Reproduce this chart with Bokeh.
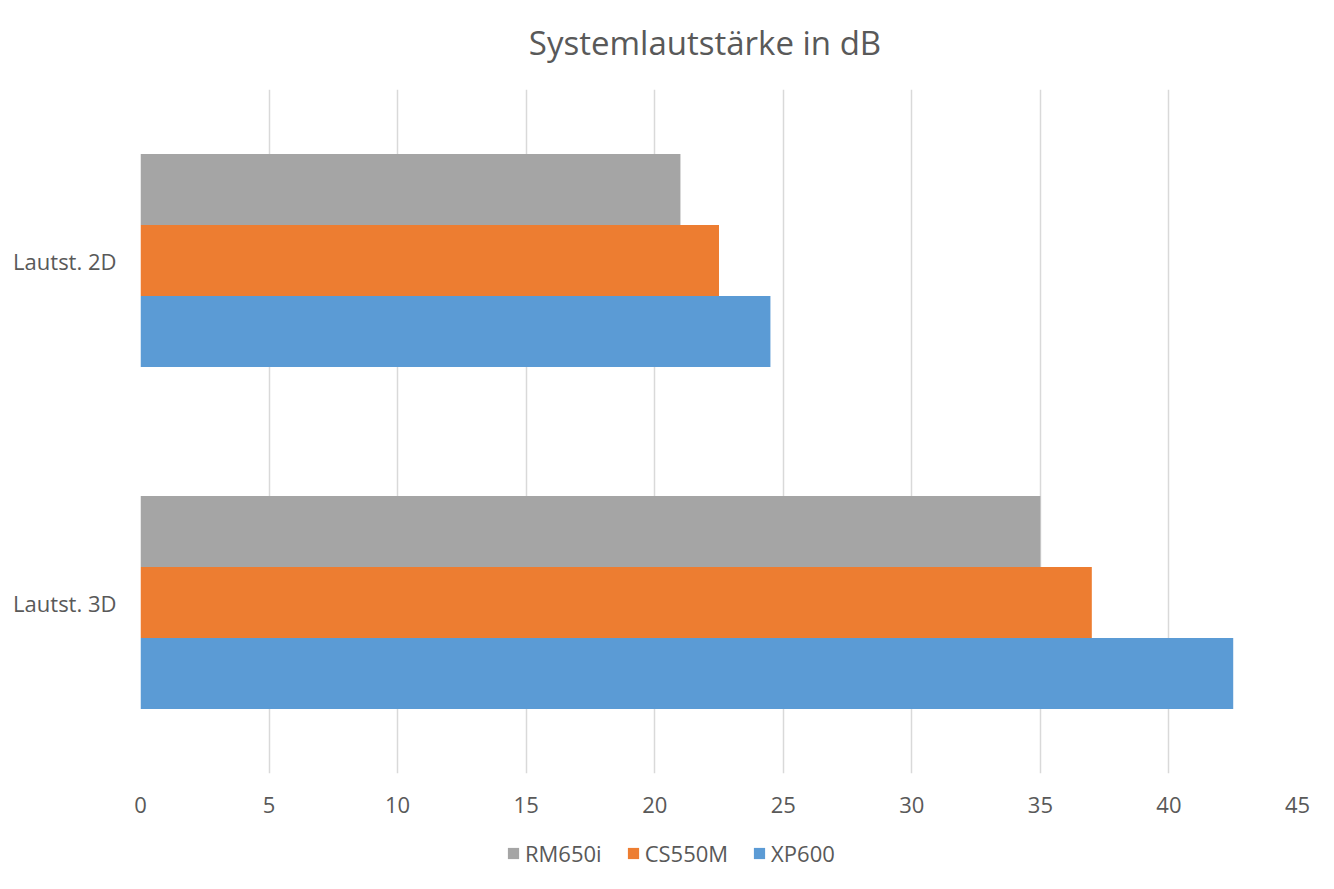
from bokeh.plotting import figure
from bokeh.models import (FactorRange, Range1d, FixedTicker, ColumnDataSource,
                          Legend, LegendItem, Label)
from bokeh.layouts import column
from bokeh.transform import dodge
from bokeh.embed import file_html
from bokeh.resources import INLINE

title_text = "Systemlautstärke in dB"
categories = ["Lautst. 2D", "Lautst. 3D"]
series_names = ["RM650i", "CS550M", "XP600"]
rm650i = [21.0, 35.0]
cs550m = [22.5, 37.0]
xp600 = [24.5, 42.5]
colors = ["#A5A5A5", "#ED7D31", "#5B9BD5"]
x_ticks = [0, 5, 10, 15, 20, 25, 30, 35, 40, 45]

FONT = "Open Sans"
TEXT = "#595959"
W = 1334
TOP_H, MAIN_H, LEG_H = 89, 741, 59
LEFT, RIGHT = 140, 37
FRAME_W = W - LEFT - RIGHT

src = ColumnDataSource(dict(cat=categories, RM650i=rm650i, CS550M=cs550m, XP600=xp600))

# title strip
pt = figure(width=W, height=TOP_H, output_backend="svg", toolbar_location=None,
            x_range=Range1d(0, FRAME_W), y_range=Range1d(0, TOP_H),
            x_axis_type=None, y_axis_type=None,
            min_border_left=LEFT, min_border_right=RIGHT,
            min_border_top=0, min_border_bottom=0)
pt.outline_line_color = None
pt.xgrid.grid_line_color = None
pt.ygrid.grid_line_color = None
pt.add_layout(Label(x=704.5 - LEFT, y=TOP_H - 42, text=title_text,
                    text_align="center", text_baseline="middle",
                    text_font=FONT, text_font_size="33px", text_color=TEXT))

# main chart
p = figure(width=W, height=MAIN_H, output_backend="svg", toolbar_location=None,
           y_range=FactorRange(factors=list(reversed(categories))),
           x_range=Range1d(0, 45),
           min_border_left=LEFT, min_border_right=RIGHT,
           min_border_top=0, min_border_bottom=57)

bar_h = 0.2076
offsets = [bar_h, 0.0, -bar_h]
for name, col, off in zip(series_names, colors, offsets):
    p.hbar(y=dodge("cat", off, range=p.y_range), right=name, left=0,
           height=bar_h, source=src, fill_color=col, line_color=None)

p.outline_line_color = None
p.background_fill_color = "white"
p.border_fill_color = "white"

p.xgrid.ticker = FixedTicker(ticks=x_ticks)
p.xgrid.grid_line_color = "#D9D9D9"
p.xgrid.grid_line_width = 1.5
p.ygrid.grid_line_color = None
p.xaxis.ticker = FixedTicker(ticks=x_ticks)

for ax in (p.xaxis, p.yaxis):
    ax.axis_line_color = None
    ax.major_tick_line_color = None
    ax.minor_tick_line_color = None
    ax.major_tick_out = 0
    ax.major_tick_in = 0
    ax.major_label_text_font = FONT
    ax.major_label_text_font_size = "22px"
    ax.major_label_text_color = TEXT
p.xaxis.major_label_standoff = 23
p.yaxis.major_label_standoff = 24
p.y_range.range_padding = 0

# legend strip: zero-height bars from the same data, only their legend swatches show
pl = figure(width=W, height=LEG_H, output_backend="svg", toolbar_location=None,
            x_range=Range1d(0, 45), y_range=FactorRange(factors=list(reversed(categories))),
            x_axis_type=None, y_axis_type=None,
            min_border_left=LEFT, min_border_right=RIGHT,
            min_border_top=0, min_border_bottom=0)
pl.outline_line_color = None
pl.xgrid.grid_line_color = None
pl.ygrid.grid_line_color = None
items = []
for name, col in zip(series_names, colors):
    r = pl.hbar(y="cat", right=name, left=0, height=0, source=src,
                fill_color=col, line_color=None)
    items.append(LegendItem(label=name, renderers=[r]))

legend = Legend(items=items, orientation="horizontal", location=(506 - LEFT, 21),
                border_line_color=None, background_fill_alpha=0,
                label_text_font=FONT, label_text_font_size="22px",
                label_text_color=TEXT, glyph_width=14, glyph_height=14,
                label_standoff=5, spacing=24, margin=0, padding=0)
pl.add_layout(legend, "center")

layout = column(pt, p, pl, spacing=0)
open("out.html", "w").write(file_html(layout, INLINE))
